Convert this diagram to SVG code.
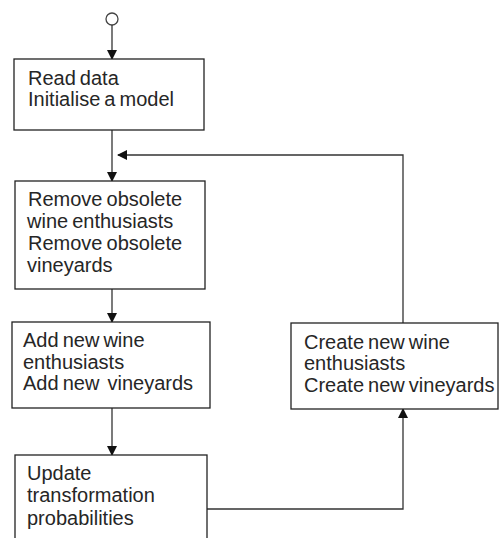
<svg xmlns="http://www.w3.org/2000/svg" width="504" height="538" viewBox="0 0 504 538">
<defs>
<marker id="ah" markerWidth="10" markerHeight="10" refX="9" refY="5" orient="auto" markerUnits="userSpaceOnUse">
<path d="M0,0 L10,5 L0,10 Z" fill="#111"/>
</marker>
<style>
.box{fill:#fff;stroke:#222;stroke-width:1.3}
.t{font-family:"Liberation Sans",Arial,sans-serif;font-size:20px;fill:#262626;word-spacing:-1.5px}
.c{fill:none;stroke:#333;stroke-width:1.3}
</style>
</defs>
<rect width="504" height="538" fill="#fff"/>
<g id="connectors">
<circle cx="112" cy="19" r="6" fill="#fff" stroke="#444" stroke-width="1.3"/>
<line class="c" x1="112" y1="25" x2="112" y2="59" marker-end="url(#ah)"/>
<line class="c" x1="112" y1="130" x2="112" y2="181" marker-end="url(#ah)"/>
<polyline class="c" points="403,323 403,155 118,155" marker-end="url(#ah)"/>
<line class="c" x1="112" y1="289" x2="112" y2="322" marker-end="url(#ah)"/>
<line class="c" x1="112" y1="408" x2="112" y2="455" marker-end="url(#ah)"/>
<polyline class="c" points="207,509 403,509 403,409" marker-end="url(#ah)"/>
</g>
<g id="n1">
<rect class="box" x="14" y="59" width="190" height="71"/>
<text class="t" x="28" y="85">Read data</text>
<text class="t" x="28" y="106">Initialise a model</text>
</g>
<g id="n2">
<rect class="box" x="15" y="181" width="190" height="108"/>
<text class="t" x="28" y="206">Remove obsolete</text>
<text class="t" x="27" y="228">wine enthusiasts</text>
<text class="t" x="28" y="250">Remove obsolete</text>
<text class="t" x="27" y="272">vineyards</text>
</g>
<g id="n3">
<rect class="box" x="12" y="322" width="198" height="86"/>
<text class="t" x="23" y="347">Add new wine</text>
<text class="t" x="23" y="369">enthusiasts</text>
<text class="t" x="23" y="390" xml:space="preserve">Add new  vineyards</text>
</g>
<g id="n4">
<rect class="box" x="291" y="323" width="207" height="86"/>
<text class="t" x="304" y="349">Create new wine</text>
<text class="t" x="304" y="370">enthusiasts</text>
<text class="t" x="304" y="392">Create new vineyards</text>
</g>
<g id="n5">
<rect class="box" x="15" y="455" width="192" height="100"/>
<text class="t" x="27" y="480">Update</text>
<text class="t" x="27" y="502">transformation</text>
<text class="t" x="27" y="525">probabilities</text>
</g>
</svg>
